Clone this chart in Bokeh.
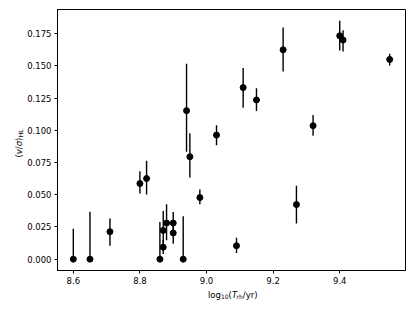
import math
from bokeh.plotting import figure
from bokeh.layouts import row, column
from bokeh.models import ColumnDataSource, FixedTicker, NumeralTickFormatter, Range1d, Label
from bokeh.embed import file_html
from bokeh.resources import INLINE

# data
log_trh = [8.60, 8.65, 8.71, 8.80, 8.82, 8.86, 8.87, 8.87, 8.88, 8.90, 8.90, 8.93, 8.94,
           8.95, 8.98, 9.03, 9.09, 9.11, 9.15, 9.23, 9.27, 9.32, 9.40, 9.41, 9.55]
v_sigma = [0.0, 0.0, 0.0213, 0.0587, 0.0626, 0.0, 0.0093, 0.0223, 0.0280, 0.0280, 0.0203, 0.0,
           0.1153, 0.0795, 0.0478, 0.0963, 0.0104, 0.1332, 0.1236, 0.1625, 0.0424, 0.1036,
           0.1734, 0.1701, 0.1550]
err_low = [0.0, 0.0, 0.0105, 0.0510, 0.0501, 0.0, 0.0040, 0.0120, 0.0146, 0.0200, 0.0120, 0.0,
           0.0833, 0.0634, 0.0426, 0.0885, 0.0047, 0.1176, 0.1150, 0.1456, 0.0276, 0.0958,
           0.1620, 0.1612, 0.1503]
err_high = [0.0237, 0.0369, 0.0315, 0.0683, 0.0763, 0.0288, 0.0150, 0.0374, 0.0426, 0.0366, 0.0280,
            0.0333, 0.1516, 0.0977, 0.0540, 0.1040, 0.0167, 0.1483, 0.1327, 0.1799, 0.0569,
            0.1119, 0.1851, 0.1776, 0.1594]
x_ticks = [8.6, 8.8, 9.0, 9.2, 9.4]
y_ticks = [0.0, 0.025, 0.05, 0.075, 0.1, 0.125, 0.15, 0.175]

src = ColumnDataSource(dict(x=log_trh, y=v_sigma, lo=err_low, hi=err_high))

FONT = "DejaVu Sans"
FS = 8.5
SUB = 6.0

YLAB_W = 24
MAIN_W = 415 - YLAB_W
MAIN_H = 288
XLAB_H = 311 - MAIN_H

p = figure(width=MAIN_W, height=MAIN_H, output_backend="svg", toolbar_location=None,
           x_range=Range1d(8.5525, 9.5975), y_range=Range1d(-0.0088, 0.1938),
           min_border_left=33, min_border_right=10, min_border_top=9, min_border_bottom=18)
p.grid.visible = False
p.outline_line_color = "black"
p.outline_line_width = 1
p.background_fill_color = "white"
p.border_fill_color = "white"

for ax in (p.xaxis[0], p.yaxis[0]):
    ax.axis_line_color = "black"
    ax.axis_line_width = 1
    ax.major_tick_line_color = "black"
    ax.major_tick_line_width = 1
    ax.major_tick_out = 3
    ax.major_tick_in = 0
    ax.minor_tick_line_color = None
    ax.major_label_text_font = FONT
    ax.major_label_text_font_size = f"{FS}px"
    ax.major_label_text_color = "black"
    ax.major_label_standoff = 3

p.xaxis.ticker = FixedTicker(ticks=x_ticks)
p.yaxis.ticker = FixedTicker(ticks=y_ticks)
p.xaxis.formatter = NumeralTickFormatter(format="0.0")
p.yaxis.formatter = NumeralTickFormatter(format="0.000")

p.segment(x0="x", y0="lo", x1="x", y1="hi", source=src, line_color="black", line_width=1.4)
p.scatter(x="x", y="y", source=src, size=6, marker="circle", fill_color="black", line_color="black")


def label_panel(w, h):
    f = figure(width=w, height=h, output_backend="svg", toolbar_location=None,
               x_axis_type=None, y_axis_type=None, min_border=0,
               x_range=Range1d(0, 1), y_range=Range1d(0, 1))
    f.outline_line_color = None
    f.background_fill_color = "white"
    f.border_fill_color = "white"
    return f


# x axis label: log10(Trh/yr)  (canvas units: origin top-left, y downward)
xlab = label_panel(MAIN_W, XLAB_H)
xl_pieces = [("log", FS, "normal", 0.0, 0.0),
             ("10", SUB, "normal", 13.0, -2.0),
             ("(", FS, "normal", 20.6, 0.0),
             ("T", FS, "italic", 23.9, 0.0),
             ("rh", SUB, "normal", 28.6, -2.0),
             ("/yr)", FS, "normal", 34.8, 0.0)]
xl_x, xl_y = 207.5 - YLAB_W, 294 - MAIN_H
for t, fs, st, dx, dy in xl_pieces:
    xlab.add_layout(Label(x=xl_x, y=xl_y, x_units="canvas", y_units="canvas",
                          x_offset=dx, y_offset=dy, text=t,
                          text_font=FONT, text_font_size=f"{fs}px", text_font_style=st,
                          text_align="left", text_baseline="alphabetic", text_color="black"))

# y axis label: (v/sigma)_HL
ylab = label_panel(YLAB_W, 311)
yl_pieces = [("(", FS, "normal", 0.0, 0.0),
             ("v", FS, "italic", 0.0, 3.3),
             ("/", FS, "normal", 0.0, 8.3),
             ("σ", FS, "italic", 0.0, 11.2),
             (")", FS, "normal", 0.0, 16.5),
             ("HL", SUB, "normal", 2.0, 20.3)]
yl_x, yl_y = 18, 157
for t, fs, st, dx, dy in yl_pieces:
    ylab.add_layout(Label(x=yl_x, y=yl_y, x_units="canvas", y_units="canvas",
                          x_offset=dx, y_offset=dy, text=t, angle=math.pi / 2,
                          text_font=FONT, text_font_size=f"{fs}px", text_font_style=st,
                          text_align="left", text_baseline="alphabetic", text_color="black"))

layout = row(ylab, column(p, xlab, spacing=0), spacing=0)
open("out.html", "w").write(file_html(layout, INLINE))
